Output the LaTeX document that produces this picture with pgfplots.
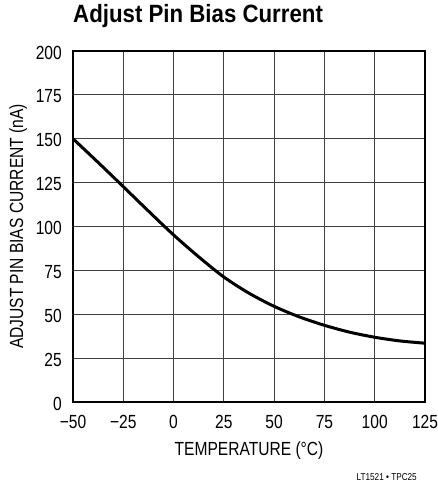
\documentclass[border=0pt]{standalone}
\usepackage{fontspec}
\setmainfont{Liberation Sans}[FakeStretch=0.82]
\newfontfamily\titlefont{Liberation Sans}[FakeStretch=0.89]
\usepackage{pgfplots}
\pgfplotsset{compat=1.18}
\begin{document}
\begin{tikzpicture}
\useasboundingbox (-73bp,-84bp) rectangle (365bp,402bp);
\begin{axis}[
  at={(0,0)}, anchor=south west,
  scale only axis, width=352bp, height=351bp,
  xmin=-50, xmax=125, ymin=0, ymax=200,
  xtick={-50,-25,0,25,50,75,100,125},
  xticklabels={−50,−25,0,25,50,75,100,125},
  ytick={0,25,50,75,100,125,150,175,200},
  yticklabels={0,25,50,75,100,125,150,175,200},
  major tick length=0pt,
  grid=major,
  major grid style={black!75, line width=0.9bp},
  axis line style={black, line width=1.6bp},
  tick label style={font=\fontsize{19bp}{22bp}\selectfont},
  xticklabel style={anchor=base, yshift=-26bp},
  yticklabel style={anchor=east, inner sep=0pt, xshift=-11bp, yshift=-1.5bp},
  xlabel={TEMPERATURE (°C)},
  ylabel={ADJUST PIN BIAS CURRENT (nA)},
  label style={font=\fontsize{19bp}{22bp}\selectfont},
  xlabel style={at={(axis description cs:0.5,-0.1510)}, anchor=base, inner sep=0pt},
  ylabel style={at={(axis description cs:-0.142,0.5)}, anchor=base, inner sep=0pt},
  title={\titlefont\bfseries Adjust Pin Bias Current},
  title style={at={(axis description cs:0,1)}, anchor=base west, inner sep=0pt, yshift=22.5bp, font=\fontsize{25bp}{28bp}\selectfont},
  clip=false,
]
\addplot[black, line width=3bp, smooth] coordinates {
(-50,150) (-37.5,136.5) (-25,122.7) (-12.5,108.8) (0,95.2) (12.5,82.7)
(25,71.2) (37.5,62.0) (50,54.5) (62.5,48.5) (75,43.7) (87.5,39.8)
(100,36.9) (112.5,34.8) (125,33.5)
};
\node[anchor=base east, inner sep=0pt, font=\fontsize{10bp}{12bp}\selectfont] at (rel axis cs:1,0) [xshift=-8bp, yshift=-78bp] {LT1521 • TPC25};
\end{axis}
\end{tikzpicture}
\end{document}
